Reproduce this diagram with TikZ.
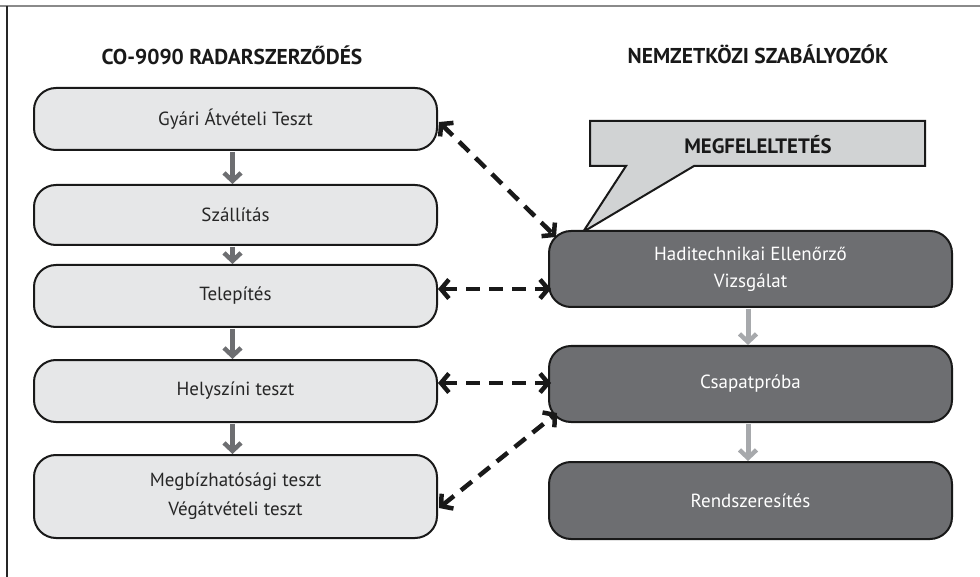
\documentclass[tikz,border=0pt]{standalone}
\usepackage{fontspec}
\setmainfont{PT Sans}
\usetikzlibrary{arrows.meta,calc}
\definecolor{lightbox}{HTML}{E6E7E8}
\definecolor{darkbox}{HTML}{6D6E71}
\definecolor{calloutfill}{HTML}{D1D3D4}
\definecolor{leftarrow}{HTML}{6D6E71}
\definecolor{rightarrow}{HTML}{A7A9AC}
\definecolor{framegray}{HTML}{8A8A8A}
\tikzset{
  lbox/.style={draw=black!90, line width=2pt, fill=lightbox, rounded corners=22pt,
    minimum width=403pt, align=center, font=\fontsize{19}{29}\selectfont, text=black!85},
  rbox/.style={draw=black!90, line width=2pt, fill=darkbox, rounded corners=22pt,
    minimum width=403pt, align=center, font=\fontsize{19}{27}\selectfont, text=white},
  titletext/.style={font=\bfseries\fontsize{21.5}{24}\selectfont, text=black!90},
  flowhead/.style={-{Straight Barb[length=8pt,width=17pt,line width=4.5pt]}},
  flowL/.style={draw=leftarrow, line width=5pt, flowhead},
  flowR/.style={draw=rightarrow, line width=5pt, flowhead},
  linkarrow/.style={draw=black!90, line width=4.5pt, dash pattern=on 14pt off 9pt,
    {Straight Barb[length=8pt,width=19pt,line width=4.5pt]}-{Straight Barb[length=8pt,width=19pt,line width=4.5pt]}}
}
\begin{document}
\begin{tikzpicture}[x=1pt,y=-1pt]
\useasboundingbox (0,0) rectangle (980,577);
% frame
\draw[framegray, line width=1.6pt] (0,6) -- (980,6);
\draw[black!85, line width=1.4pt] (7,6) -- (7,577);
% titles
\node[titletext] (tL) at (232,55) {CO-9090 RADARSZERZŐDÉS};
\node[titletext] (tR) at (758,54) {NEMZETKÖZI SZABÁLYOZÓK};
% callout
\draw[black!90, line width=2pt, fill=calloutfill, line join=miter]
  (590,121) -- (925,121) -- (925,166) -- (694,166) -- (583,232) -- (626,166) -- (590,166) -- cycle;
\node[font=\bfseries\fontsize{20.8}{24}\selectfont, text=black!90] (cm) at (758,145) {MEGFELELTETÉS};
% left boxes
\node[lbox, minimum height=62pt] (b1) at (235.5,119) {Gyári Átvételi Teszt};
\node[lbox, minimum height=60pt] (b2) at (235.5,215) {Szállítás};
\node[lbox, minimum height=62pt] (b3) at (235.5,296) {Telepítés};
\node[lbox, minimum height=62pt] (b4) at (235.5,391) {Helyszíni teszt};
\node[lbox, minimum height=83pt] (b5) at (235.5,496.5) {Megbízhatósági teszt\\Végátvételi teszt};
% right boxes
\node[rbox, minimum height=76pt] (r1) at (750.5,269) {Haditechnikai Ellenőrző\\Vizsgálat};
\node[rbox, minimum height=76pt] (r2) at (750.5,384) {Csapatpróba};
\node[rbox, minimum height=77pt] (r3) at (750.5,500.5) {Rendszeresítés};
% flow arrows
\draw[flowL] ($(b1.south)+(-3,1)$) -- ($(b2.north)+(-3,0)$);
\draw[flowL] ($(b2.south)+(-3,1)$) -- ($(b3.north)+(-3,0)$);
\draw[flowL] ($(b3.south)+(-3,1)$) -- ($(b4.north)+(-3,0)$);
\draw[flowL] ($(b4.south)+(-3,1)$) -- ($(b5.north)+(-3,0)$);
\draw[flowR] ($(r1.south)+(-2.5,1)$) -- ($(r2.north)+(-2.5,0)$);
\draw[flowR] ($(r2.south)+(-2.5,1)$) -- ($(r3.north)+(-2.5,0)$);
% dashed links
\draw[linkarrow] ($(b1.east)+(1,3)$) -- ($(r1.north west)+(8,7)$);
\draw[linkarrow] ($(b3.east)+(0,-7)$) -- ($(r1.west)+(3,20)$);
\draw[linkarrow] ($(b4.east)+(0,-8)$) -- ($(r2.west)+(3,-1)$);
\draw[linkarrow] ($(b5.east)+(1,11.5)$) -- ($(r2.south west)+(9,-10)$);
\end{tikzpicture}
\end{document}
